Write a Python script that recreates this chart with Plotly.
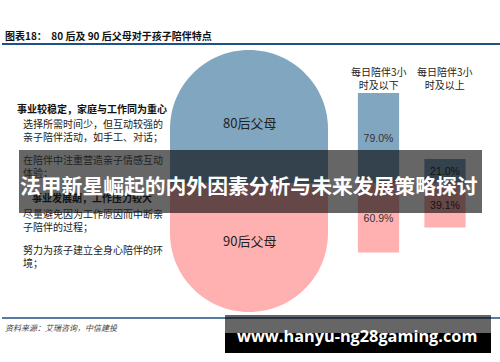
import plotly.graph_objects as go

# ---------------- data ----------------
categories = ["每日陪伴3小时及以下", "每日陪伴3小时及以上"]
header_labels = ["每日陪伴3小<br>时及以下", "每日陪伴3小<br>时及以上"]
groups = ["80后父母", "90后父母"]
share_80 = [79.0, 21.0]   # 80后父母
share_90 = [60.9, 39.1]   # 90后父母

title_text = "图表18：  80 后及 90 后父母对于孩子陪伴特点"
source_text = "资料来源：艾瑞咨询，中信建投"
banner_text = "法甲新星崛起的内外因素分析与未来发展策略探讨"
watermark_text = "www.hanyu-ng28gaming.com"

heading_80 = "事业较稳定，家庭与工作同为重心"
para_80 = ["选择所需时间少，但互动较强的<br>亲子陪伴活动，如手工、对话；",
           "在陪伴中注重营造亲子情感互动<br>体验；"]
heading_90 = "事业发展期，工作压力较大"
para_90 = ["尽量避免因为工作原因而中断亲<br>子陪伴的过程；",
           "努力为孩子建立全身心陪伴的环<br>境；"]

BLUE = "#81A6BF"
PINK = "#FFB1B1"
LINE = "#1F5086"
CJK = "Noto Sans CJK SC"

W, H = 500, 362
def px(x): return x / W
def py(y): return 1 - y / H

fig = go.Figure()

fig.add_trace(go.Bar(
    x=categories, y=share_80, marker=dict(color=BLUE, line=dict(width=0)),
    text=[f"{v:.1f}%" for v in share_80], textposition="inside",
    insidetextanchor="middle", textangle=0,
    textfont=dict(family="Liberation Sans, Arial", size=10.5, color="#333333"),
    width=0.62, hoverinfo="skip", name=groups[0]))
fig.add_trace(go.Bar(
    x=categories, y=[-v for v in share_90], marker=dict(color=PINK, line=dict(width=0)),
    text=[f"{v:.1f}%" for v in share_90], textposition="inside",
    insidetextanchor="middle", textangle=0,
    textfont=dict(family="Liberation Sans, Arial", size=10.5, color="#333333"),
    width=0.62, hoverinfo="skip", name=groups[1]))

# axis mapping: boundary at pixel 183, 1.14 px per percentage point
scale, base = 1.14, 183
yr = [(base - H) / scale, base / scale]
xs = 66.5
xr = [-378.5 / xs, (W - 378.5) / xs]

shapes = []
# header & footer lines
shapes.append(dict(type="line", xref="paper", yref="paper", x0=px(2), x1=px(500),
                   y0=py(44), y1=py(44), line=dict(color=LINE, width=2), layer="below"))
shapes.append(dict(type="line", xref="paper", yref="paper", x0=px(2), x1=px(500),
                   y0=py(318), y1=py(318), line=dict(color=LINE, width=1.5), layer="below"))

# capsule
L, R, T, B, M = 170, 328, 50, 312, 183
r = (R - L) / 2
cx = (L + R) / 2
k = 0.5523 * r
def P(x, y): return f"{px(x):.5f},{py(y):.5f}"
top_c = T + r
bot_c = B - r
blue_path = (f"M {P(L, M)} L {P(L, top_c)} "
             f"C {P(L, top_c - k)} {P(cx - k, T)} {P(cx, T)} "
             f"C {P(cx + k, T)} {P(R, top_c - k)} {P(R, top_c)} "
             f"L {P(R, M)} Z")
pink_path = (f"M {P(L, M)} L {P(L, bot_c)} "
             f"C {P(L, bot_c + k)} {P(cx - k, B)} {P(cx, B)} "
             f"C {P(cx + k, B)} {P(R, bot_c + k)} {P(R, bot_c)} "
             f"L {P(R, M)} Z")
shapes.append(dict(type="path", xref="paper", yref="paper", path=blue_path,
                   fillcolor=BLUE, line=dict(width=0), layer="below"))
shapes.append(dict(type="path", xref="paper", yref="paper", path=pink_path,
                   fillcolor=PINK, line=dict(width=0), layer="below"))

# banner overlay
shapes.append(dict(type="rect", xref="paper", yref="paper", x0=px(19), x1=px(482),
                   y0=py(213), y1=py(150), fillcolor="rgba(0,0,0,0.6)",
                   line=dict(width=0), layer="above"))
# watermark boxes
shapes.append(dict(type="rect", xref="paper", yref="paper", x0=px(225), x1=px(491),
                   y0=py(353), y1=py(315), fillcolor="rgba(0,0,0,0.6)",
                   line=dict(width=0), layer="above"))
shapes.append(dict(type="rect", xref="paper", yref="paper", x0=px(225), x1=px(491),
                   y0=py(353), y1=py(333), fillcolor="#000000",
                   line=dict(width=0), layer="above"))

ann = []
def A(text, x, y, size, color="#222222", bold=False, xanchor="left", family=CJK, italic=False):
    t = f"<b>{text}</b>" if bold else text
    if italic:
        t = f"<i>{t}</i>"
    ann.append(dict(text=t, x=px(x), y=py(y), xref="paper", yref="paper",
                    xanchor=xanchor, yanchor="middle", showarrow=False,
                    font=dict(family=family, size=size, color=color), align="left"))

A(title_text, 3, 35.5, 10, color="#111111", bold=True)
A(source_text, 3, 327, 8, color="#444444", italic=True)

A(heading_80, 92, 108, 10, color="#111111", bold=True, xanchor="center")
A(para_80[0], 21, 130, 10, color="#222222")
A(para_80[1], 21, 166, 10, color="#222222")
A(heading_90, 92, 197, 10, color="#111111", bold=True, xanchor="center")
A(para_90[0], 21, 220, 10, color="#222222")
A(para_90[1], 21, 256, 10, color="#222222")

A(groups[0], cx, 122, 13, color="#222222", xanchor="center")
A(groups[1], cx, 240, 13, color="#222222", xanchor="center")

for i, lab in enumerate(header_labels):
    ann.append(dict(text=lab, x=categories[i], y=py(78), xref="x", yref="paper",
                    xanchor="center", yanchor="middle", showarrow=False, align="center",
                    font=dict(family=CJK, size=10, color="#222222")))

A(banner_text, 249, 185, 20.8, color="#FFFFFF", bold=True, xanchor="center")
A(watermark_text, 357, 336, 16.3, color="#FFFFFF", bold=True, xanchor="center",
  family="Open Sans, DejaVu Sans")

fig.update_layout(
    width=W, height=H, margin=dict(l=0, r=0, t=0, b=0),
    paper_bgcolor="white", plot_bgcolor="rgba(0,0,0,0)",
    barmode="relative", showlegend=False,
    xaxis=dict(visible=False, range=xr, type="category", fixedrange=True),
    yaxis=dict(visible=False, range=yr, fixedrange=True),
    shapes=shapes, annotations=ann,
    uniformtext=dict(mode=False),
)
fig.write_html("out.html")
